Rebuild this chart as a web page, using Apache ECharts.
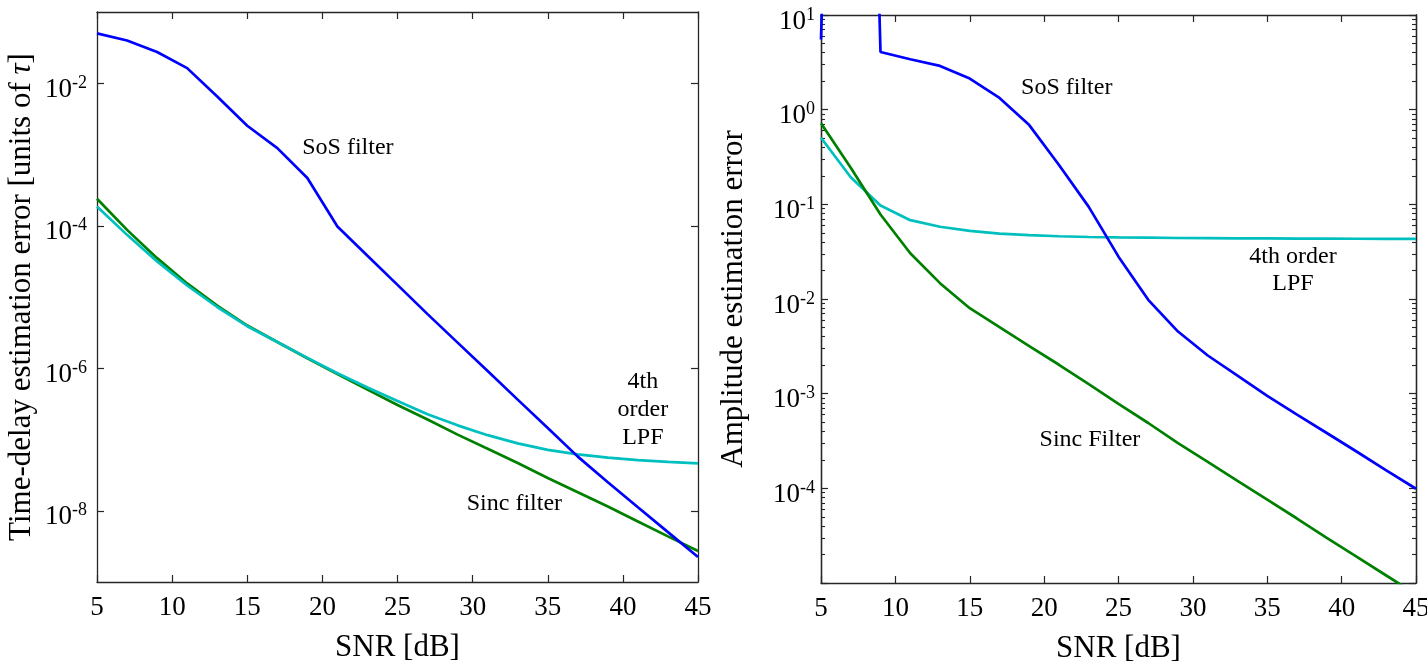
<!DOCTYPE html>
<html><head><meta charset="utf-8">
<script src="https://cdn.jsdelivr.net/npm/echarts@6/dist/echarts.min.js"></script>
<style>html,body{margin:0;padding:0;background:#fff}#c{width:1427px;height:670px}</style>
</head><body><div id="c"></div>
<script>
// ---------- data ----------
const snr = [5,7,9,11,13,15,17,19,21,23,25,27,29,31,33,35,37,39,41,43,45];
const xTickValues = [5,10,15,20,25,30,35,40,45];

// left panel: time-delay estimation error
const leftSoS  = [0.0501,0.0398,0.0275,0.0163,0.00653,0.00253,0.00123,4.68e-4,9.77e-5,3.80e-5,1.48e-5,5.75e-6,2.29e-6,9.12e-7,3.63e-7,1.45e-7,5.75e-8,2.51e-8,1.12e-8,5.01e-9,2.24e-9];
const leftSinc = [2.39e-4,8.75e-5,3.51e-5,1.55e-5,7.59e-6,3.98e-6,2.34e-6,1.38e-6,8.32e-7,5.01e-7,3.05e-7,1.91e-7,1.17e-7,7.41e-8,4.68e-8,2.88e-8,1.82e-8,1.15e-8,7.08e-9,4.37e-9,2.72e-9];
const leftLPF  = [1.86e-4,7.45e-5,3.16e-5,1.45e-5,7.24e-6,3.89e-6,2.34e-6,1.40e-6,8.51e-7,5.37e-7,3.47e-7,2.26e-7,1.58e-7,1.15e-7,8.81e-8,7.16e-8,6.17e-8,5.56e-8,5.13e-8,4.84e-8,4.62e-8];
const leftYTicks = [1e-8,1e-6,1e-4,1e-2];

// right panel: amplitude estimation error
const rightSoS  = [5.5,1e12,4.07,3.41,2.90,2.13,1.33,0.687,0.26,0.094,0.028,0.0098,0.00453,0.00253,0.00155,9.5e-4,6.0e-4,3.84e-4,2.45e-4,1.55e-4,9.9e-5];
const rightSinc = [0.72,0.243,0.078,0.0304,0.0147,0.0080,0.00505,0.00318,0.00202,1.26e-3,7.8e-4,4.9e-4,3.0e-4,1.9e-4,1.2e-4,7.6e-5,4.8e-5,3.0e-5,1.9e-5,1.2e-5,7.6e-6];
const rightLPF  = [0.505,0.193,0.097,0.068,0.058,0.0525,0.049,0.0473,0.046,0.0452,0.0447,0.0444,0.0441,0.0439,0.0437,0.0436,0.0435,0.0434,0.0433,0.0432,0.0431];
const rightYTicks = [1e-4,1e-3,1e-2,1e-1,1,10];
const rightYMajor = [1e-5,1e-4,1e-3,1e-2,1e-1,1,10];
const rightYMinor = [];
[1e-5,1e-4,1e-3,1e-2,1e-1,1].forEach(d => { for (let k = 2; k <= 9; k++) rightYMinor.push(+(d*k).toPrecision(3)); });

// annotations
const leftNoteText = ['SoS filter','Sinc filter','4th\norder\nLPF'];
const leftNoteX = [21.70, 32.78, 41.33];
const leftNoteY = [1.25e-3, 1.25e-8, 2.6e-7];
const rightNoteText = ['SoS filter','4th order\nLPF','Sinc Filter'];
const rightNoteX = [21.52, 36.73, 23.08];
const rightNoteY = [1.686, 0.0203, 3.27e-4];

// ---------- style ----------
const FONT = '"Liberation Serif","Times New Roman",serif';
const AX = '#262626';
const C_SOS = '#0000ff', C_SINC = '#008000', C_LPF = '#00bfbf';

function pairs(xs, ys){ return xs.map((x,i)=>[x, ys[i]]); }
function expLabel(v){ const e = Math.round(Math.log10(v)); return '{b|10}{s|' + e + '}'; }
const labelRich = {
  b:{fontFamily:FONT,fontSize:27,color:'#000',padding:[13,0,0,0]},
  s:{fontFamily:FONT,fontSize:18,color:'#000'}
};

function xAxes(gi){
  return [
    {gridIndex:gi,type:'value',min:5,max:45,interval:5,position:'bottom',
     name:'SNR [dB]',nameLocation:'middle',nameGap:50,
     nameTextStyle:{fontFamily:FONT,fontSize:31,color:'#000'},
     axisLine:{show:true,onZero:false,lineStyle:{color:AX,width:1.3}},
     axisTick:{show:true,inside:true,length:7,lineStyle:{color:AX,width:1.2}},
     axisLabel:{show:true,fontFamily:FONT,fontSize:27,color:'#000',margin:12},
     splitLine:{show:false}},
    {gridIndex:gi,type:'value',min:5,max:45,interval:5,position:'top',
     axisLine:{show:true,onZero:false,lineStyle:{color:AX,width:1.3}},
     axisTick:{show:true,inside:true,length:7,lineStyle:{color:AX,width:1.2}},
     axisLabel:{show:false},splitLine:{show:false}}
  ];
}

const yName1 = 'Time-delay estimation error [units of {i|τ}]';
const nameStyle = {fontFamily:FONT,fontSize:31,color:'#000',
  rich:{i:{fontFamily:FONT,fontSize:31,fontStyle:'italic',color:'#000'}}};

const yAxis = [
  {gridIndex:0,type:'log',logBase:10,min:1e-9,max:1e-1,position:'left',
   name:yName1,nameLocation:'middle',nameGap:60,nameTextStyle:nameStyle,
   axisLine:{show:true,lineStyle:{color:AX,width:1.3}},
   axisTick:{show:true,inside:true,length:7,customValues:leftYTicks,lineStyle:{color:AX,width:1.2}},
   axisLabel:{show:true,customValues:leftYTicks,formatter:expLabel,rich:labelRich,margin:10},
   splitLine:{show:false},minorTick:{show:false}},
  {gridIndex:0,type:'log',logBase:10,min:1e-9,max:1e-1,position:'right',
   axisLine:{show:true,lineStyle:{color:AX,width:1.3}},
   axisTick:{show:true,inside:true,length:7,customValues:leftYTicks,lineStyle:{color:AX,width:1.2}},
   axisLabel:{show:false},splitLine:{show:false}},
  {gridIndex:1,type:'log',logBase:10,min:1e-5,max:10,position:'left',
   name:'Amplitude estimation error',nameLocation:'middle',nameGap:72,nameTextStyle:nameStyle,
   axisLine:{show:true,lineStyle:{color:AX,width:1.3}},
   axisTick:{show:true,inside:true,length:7,customValues:rightYMajor,lineStyle:{color:AX,width:1.2}},
   axisLabel:{show:true,customValues:rightYTicks,formatter:expLabel,rich:labelRich,margin:6},
   splitLine:{show:false}},
  {gridIndex:1,type:'log',logBase:10,min:1e-5,max:10,position:'right',
   axisLine:{show:true,lineStyle:{color:AX,width:1.3}},
   axisTick:{show:true,inside:true,length:7,customValues:rightYMajor,lineStyle:{color:AX,width:1.2}},
   axisLabel:{show:false},splitLine:{show:false}},
  {gridIndex:1,type:'log',logBase:10,min:1e-5,max:10,position:'left',
   axisLine:{show:true,lineStyle:{color:AX,width:1.3}},
   axisTick:{show:true,inside:true,length:4,customValues:rightYMinor,lineStyle:{color:AX,width:1.1}},
   axisLabel:{show:false},splitLine:{show:false}},
  {gridIndex:1,type:'log',logBase:10,min:1e-5,max:10,position:'right',
   axisLine:{show:true,lineStyle:{color:AX,width:1.3}},
   axisTick:{show:true,inside:true,length:4,customValues:rightYMinor,lineStyle:{color:AX,width:1.1}},
   axisLabel:{show:false},splitLine:{show:false}}
];

function line(name, xi, yi, ys, color, z){
  return {name, type:'line', xAxisIndex:xi, yAxisIndex:yi, data:pairs(snr, ys),
    symbol:'none', showSymbol:false, clip:true, z:z||2,
    lineStyle:{color, width:2.7}, itemStyle:{color}, silent:true, animation:false};
}
function notes(xi, yi, texts, xs, ys, lh){
  return {type:'scatter', xAxisIndex:xi, yAxisIndex:yi, symbolSize:0, silent:true, z:10, animation:false,
    itemStyle:{opacity:1},
    data: texts.map((t,i)=>({name:t, value:[xs[i], ys[i]]})),
    label:{show:true, position:'inside', formatter:'{b}', fontFamily:FONT, fontSize:24, color:'#000',
      opacity:1, textBorderWidth:0, lineHeight:lh, align:'center', verticalAlign:'middle'}};
}

const option = {
  animation:false,
  backgroundColor:'#fff',
  grid:[
    {left:97, top:12, width:601, height:570, outerBoundsMode:'none', containLabel:false},
    {left:821, top:15, width:595, height:568, outerBoundsMode:'none', containLabel:false}
  ],
  xAxis:[...xAxes(0), ...xAxes(1)],
  yAxis,
  series:[
    line('Sinc filter',0,0,leftSinc,C_SINC,2),
    line('4th order LPF',0,0,leftLPF,C_LPF,3),
    line('SoS filter',0,0,leftSoS,C_SOS,4),
    line('4th order LPF',2,2,rightLPF,C_LPF,2),
    line('Sinc filter',2,2,rightSinc,C_SINC,3),
    line('SoS filter',2,2,rightSoS,C_SOS,4),
    notes(0,0,leftNoteText,leftNoteX,leftNoteY,28),
    notes(2,2,rightNoteText,rightNoteX,rightNoteY,27)
  ]
};
const chart = echarts.init(document.getElementById('c'), null, {renderer:'canvas'});
chart.setOption(option);
</script></body></html>
